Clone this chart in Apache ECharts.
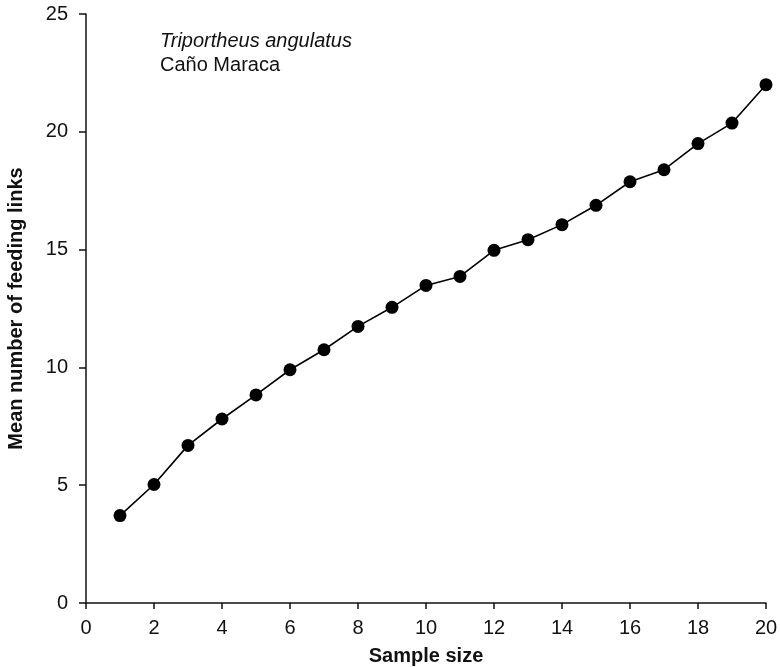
<!DOCTYPE html>
<html>
<head>
<meta charset="utf-8">
<script src="https://cdn.jsdelivr.net/npm/echarts@6/dist/echarts.min.js"></script>
<style>
  html, body { margin: 0; padding: 0; background: #fff; }
  #main { width: 780px; height: 667px; }
</style>
</head>
<body>
<div id="main"></div>
<script>
// sample size vs mean number of feeding links
const sampleSize = [1, 2, 3, 4, 5, 6, 7, 8, 9, 10, 11, 12, 13, 14, 15, 16, 17, 18, 19, 20];
const meanLinks = [3.71, 5.03, 6.69, 7.81, 8.83, 9.9, 10.75, 11.74, 12.55, 13.48, 13.86, 14.97, 15.42, 16.06, 16.88, 17.88, 18.39, 19.5, 20.37, 22.0];

const fontFamily = "'Liberation Sans', Arial, sans-serif";
const ink = "#111";

const chart = echarts.init(document.getElementById("main"));
chart.setOption({
  animation: false,
  grid: { left: 86, right: 14, top: 14, bottom: 64, outerBoundsMode: "none" },
  graphic: [
    {
      type: "text",
      left: 160,
      top: 31,
      style: { text: "Triportheus angulatus", font: "italic 20px " + fontFamily, fill: ink },
    },
    {
      type: "text",
      left: 160,
      top: 55,
      style: { text: "Caño Maraca", font: "20px " + fontFamily, fill: ink },
    },
  ],
  xAxis: {
    type: "value",
    min: 0,
    max: 20,
    interval: 2,
    name: "Sample size",
    nameLocation: "middle",
    nameGap: 43,
    nameTextStyle: { fontFamily, fontSize: 20, fontWeight: "bold", color: ink },
    axisLine: { lineStyle: { color: ink, width: 1.5 } },
    axisTick: { length: 6, lineStyle: { color: ink, width: 1.5 } },
    axisLabel: { fontFamily, fontSize: 20, color: ink, margin: 15 },
    splitLine: { show: false },
  },
  yAxis: {
    type: "value",
    min: 0,
    max: 25,
    interval: 5,
    name: "Mean number of feeding links",
    nameLocation: "middle",
    nameGap: 60,
    nameTextStyle: { fontFamily, fontSize: 20, fontWeight: "bold", color: ink },
    axisLine: { show: true, lineStyle: { color: ink, width: 1.5 } },
    axisTick: { show: true, length: 7, lineStyle: { color: ink, width: 1.5 } },
    axisLabel: { fontFamily, fontSize: 20, color: ink, margin: 18 },
    splitLine: { show: false },
  },
  series: [
    {
      type: "line",
      data: sampleSize.map((x, i) => [x, meanLinks[i]]),
      symbol: "circle",
      symbolSize: 13,
      itemStyle: { color: "#000" },
      lineStyle: { color: "#000", width: 1.6 },
    },
  ],
});
</script>
</body>
</html>
